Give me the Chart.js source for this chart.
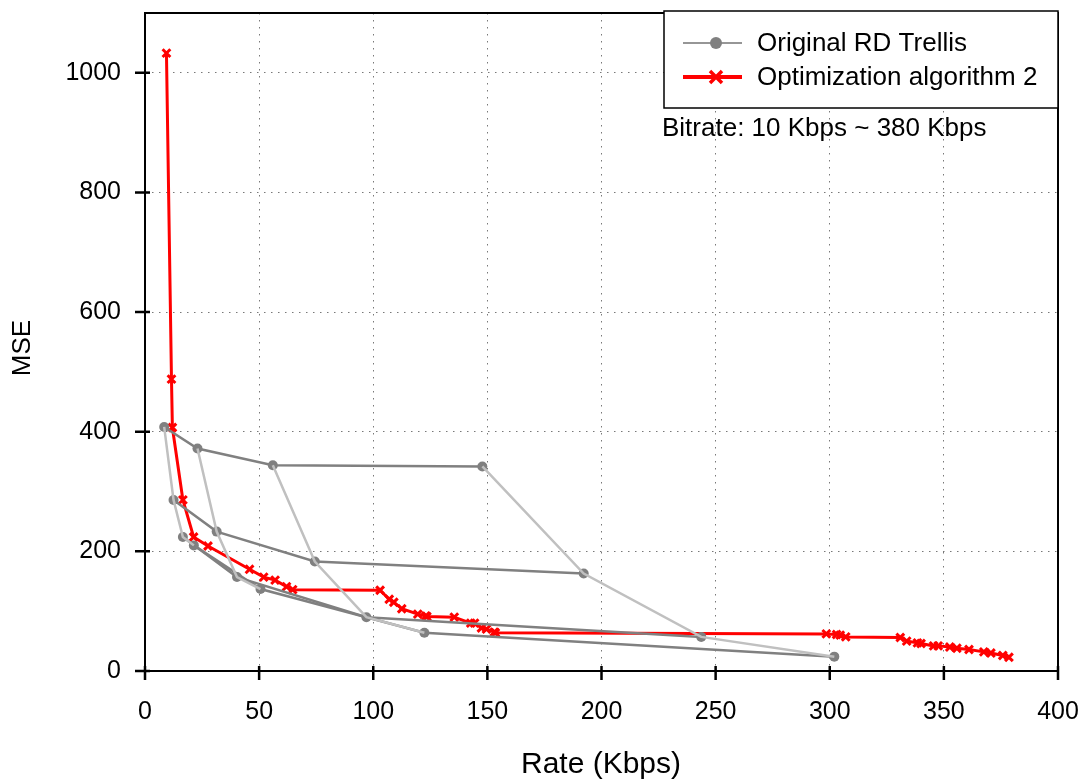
<!DOCTYPE html>
<html lang="en">
<head>
  <meta charset="UTF-8">
  <title>RD Trellis</title>
  <script src="https://cdn.jsdelivr.net/npm/chart.js@4.4.1/dist/chart.umd.min.js"></script>
  <style>
    html, body { margin: 0; padding: 0; background: #fff; }
    #caixa { width: 1084px; height: 781px; }
  </style>
</head>
<body>
  <div id="caixa"><canvas id="grafico" width="1084" height="781"></canvas></div>
  <script>
    // trellis: each row is one dark line, the same index across rows is a light line
    var trellisRate = [
      [8.4, 23, 56, 147.8],
      [12.5, 31.4, 74.4, 192.2],
      [16.6, 40.3, 97, 243.7],
      [21.4, 50.6, 122.4, 302]
    ]
    var trellisMse = [
      [408, 372, 344, 342],
      [286, 233, 183, 163],
      [224, 157, 90, 57],
      [210, 137, 64, 24]
    ]

    var optRate = [9.4, 11.6, 12, 16.6, 21.3, 27.6, 45.8, 52, 57, 62, 64.7, 103, 107, 109, 112.5, 119.5, 123, 123.5,
      135.5, 142.7, 144.4, 147.4, 149.6, 153, 153.5, 298.5, 303, 304.6, 307, 330.9, 333.7, 338.4, 340, 345.5,
      347.5, 352.6, 355.7, 361, 367.5, 370.6, 375.8, 378.5]
    var optMse = [1033, 488, 407, 286, 224, 209, 170, 157, 152, 141, 136, 135, 120, 115, 104, 95, 92, 91,
      90, 80, 80, 72, 70, 65, 64, 62, 61, 60, 57, 56, 50, 47, 46, 42, 42, 40, 38, 36, 32, 30, 26, 23]

    var xTicks = [0, 50, 100, 150, 200, 250, 300, 350, 400]
    var yTicks = [0, 200, 400, 600, 800, 1000]

    var fonte = '"Liberation Sans", Arial, sans-serif'
    var escuro = 'rgb(128,128,128)'
    var claro = 'rgb(192,192,192)'
    var vermelho = 'rgb(255,0,0)'

    var datasets = []

    // light lines (columns)
    for (var c = 0; c < trellisRate[0].length; c++) {
      var pts = []
      for (var r = 0; r < trellisRate.length; r++) {
        pts.push({ x: trellisRate[r][c], y: trellisMse[r][c] })
      }
      datasets.push({
        label: 'coluna' + c,
        data: pts,
        showLine: true,
        borderColor: claro,
        borderWidth: 2.5,
        pointRadius: 0
      })
    }

    // dark lines (rows) with the dots
    for (var r = 0; r < trellisRate.length; r++) {
      var pts = []
      for (var c = 0; c < trellisRate[r].length; c++) {
        pts.push({ x: trellisRate[r][c], y: trellisMse[r][c] })
      }
      datasets.push({
        label: r == 0 ? 'Original RD Trellis' : 'linha' + r,
        data: pts,
        showLine: true,
        borderColor: escuro,
        borderWidth: 2.5,
        pointRadius: 5,
        pointBackgroundColor: escuro,
        pointBorderWidth: 0
      })
    }

    var otim = []
    for (var i = 0; i < optRate.length; i++) {
      otim.push({ x: optRate[i], y: optMse[i] })
    }
    datasets.push({
      label: 'Optimization algorithm 2',
      data: otim,
      showLine: true,
      borderColor: vermelho,
      borderWidth: 3,
      pointStyle: 'crossRot',
      pointRadius: 5.5,
      pointBorderColor: vermelho,
      pointBorderWidth: 3
    })

    function semPadding(s) {
      s.paddingTop = 0
      s.paddingBottom = 0
      s.paddingLeft = 0
      s.paddingRight = 0
    }

    // frame, crossing tick marks, axis titles, legend box and the bitrate note
    var moldura = {
      id: 'moldura',
      afterDraw: function (chart) {
        var ctx = chart.ctx
        var a = chart.chartArea
        var sx = chart.scales.x
        var sy = chart.scales.y
        ctx.save()
        ctx.strokeStyle = '#000'
        ctx.lineWidth = 2
        ctx.strokeRect(a.left, a.top, a.right - a.left, a.bottom - a.top)

        ctx.lineWidth = 2.5
        ctx.beginPath()
        xTicks.forEach(function (v) {
          var p = sx.getPixelForValue(v)
          ctx.moveTo(p, a.bottom - 5)
          ctx.lineTo(p, a.bottom + 9)
        })
        yTicks.forEach(function (v) {
          var p = sy.getPixelForValue(v)
          ctx.moveTo(a.left + 5, p)
          ctx.lineTo(a.left - 10, p)
        })
        ctx.stroke()

        ctx.fillStyle = '#000'
        ctx.textAlign = 'center'
        ctx.textBaseline = 'middle'

        // x axis title
        ctx.font = '30px ' + fonte
        ctx.fillText('Rate (Kbps)', 601, 765)

        // y axis title
        ctx.save()
        ctx.translate(23, 348)
        ctx.rotate(-Math.PI / 2)
        ctx.font = '26px ' + fonte
        ctx.fillText('MSE', 0, 0)
        ctx.restore()

        // legend
        ctx.fillStyle = '#fff'
        ctx.fillRect(664, 11, 394, 97)
        ctx.lineWidth = 1.5
        ctx.strokeRect(664, 11, 394, 97)

        ctx.strokeStyle = 'rgb(150,150,150)'
        ctx.lineWidth = 2
        ctx.beginPath()
        ctx.moveTo(683, 43)
        ctx.lineTo(742, 43)
        ctx.stroke()
        ctx.fillStyle = escuro
        ctx.beginPath()
        ctx.arc(716, 43, 6, 0, Math.PI * 2)
        ctx.fill()

        ctx.strokeStyle = vermelho
        ctx.lineWidth = 4
        ctx.beginPath()
        ctx.moveTo(683, 77)
        ctx.lineTo(742, 77)
        ctx.stroke()
        ctx.lineWidth = 3.5
        ctx.beginPath()
        ctx.moveTo(710, 71)
        ctx.lineTo(722, 83)
        ctx.moveTo(722, 71)
        ctx.lineTo(710, 83)
        ctx.stroke()

        ctx.fillStyle = '#000'
        ctx.font = '26px ' + fonte
        ctx.textAlign = 'left'
        ctx.fillText('Original RD Trellis', 757, 44)
        ctx.fillText('Optimization algorithm 2', 757, 78)

        ctx.fillText('Bitrate: 10 Kbps ~ 380 Kbps', 662, 129)
        ctx.restore()
      }
    }

    const ctx = document.getElementById('grafico')

    new Chart(ctx, {
      type: 'scatter',
      data: { datasets: datasets },
      options: {
        responsive: false,
        animation: false,
        devicePixelRatio: 1,
        layout: { padding: { top: 13, right: 26, left: 0, bottom: 0 } },
        plugins: {
          legend: { display: false },
          tooltip: { enabled: false }
        },
        scales: {
          x: {
            type: 'linear',
            min: 0,
            max: 400,
            afterBuildTicks: function (s) { s.ticks = xTicks.map(function (v) { return { value: v } }) },
            afterFit: function (s) { s.height = 110; semPadding(s) },
            grid: { color: 'rgb(120,120,120)', lineWidth: 1, drawTicks: false },
            border: { display: false, dash: [1.5, 5.5] },
            ticks: { color: '#000', padding: 26, font: { family: fonte, size: 25 }, maxRotation: 0,
              callback: function (v) { return String(v) } }
          },
          y: {
            type: 'linear',
            min: 0,
            max: 1100,
            afterBuildTicks: function (s) { s.ticks = yTicks.map(function (v) { return { value: v } }) },
            afterFit: function (s) { s.width = 145; semPadding(s) },
            grid: { color: 'rgb(120,120,120)', lineWidth: 1, drawTicks: false },
            border: { display: false, dash: [1.5, 5.5] },
            ticks: { color: '#000', padding: 24, font: { family: fonte, size: 25 },
              callback: function (v) { return String(v) } }
          }
        }
      },
      plugins: [moldura]
    })
  </script>
</body>
</html>
